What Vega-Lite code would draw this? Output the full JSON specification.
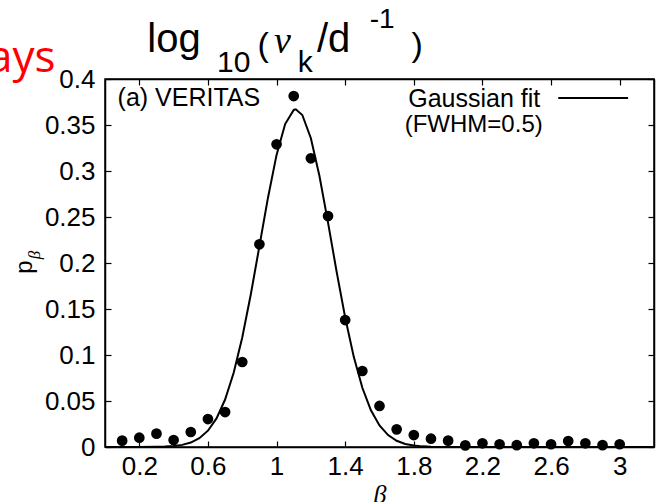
{
  "$schema": "https://vega.github.io/schema/vega-lite/v6.json",
  "width": 549,
  "height": 368,
  "autosize": {"type": "none"},
  "padding": {"left": 105, "top": 79, "right": 7, "bottom": 55},
  "background": "white",
  "config": {
    "view": {"stroke": "black", "strokeWidth": 1.5},
    "axis": {
      "grid": false,
      "domainColor": "black",
      "domainWidth": 1.5,
      "tickColor": "black",
      "tickWidth": 1.2,
      "tickSize": -6,
      "labelFont": "Liberation Sans",
      "labelFontSize": 26,
      "labelColor": "black",
      "labelOverlap": false,
      "labelFlush": false,
      "labelBound": false,
      "titleColor": "black"
    },
    "text": {"font": "Liberation Sans", "color": "black"}
  },
  "datasets": {
    "points": [
      {"beta": 0.1, "p": 0.0069}, {"beta": 0.2, "p": 0.0101}, {"beta": 0.3, "p": 0.0145},
      {"beta": 0.4, "p": 0.0076}, {"beta": 0.5, "p": 0.0163}, {"beta": 0.6, "p": 0.0304},
      {"beta": 0.7, "p": 0.038}, {"beta": 0.8, "p": 0.0924}, {"beta": 0.9, "p": 0.2203},
      {"beta": 1.0, "p": 0.329}, {"beta": 1.1, "p": 0.3815}, {"beta": 1.2, "p": 0.3138},
      {"beta": 1.3, "p": 0.251}, {"beta": 1.4, "p": 0.138}, {"beta": 1.5, "p": 0.0826},
      {"beta": 1.6, "p": 0.0446}, {"beta": 1.7, "p": 0.0192}, {"beta": 1.8, "p": 0.013},
      {"beta": 1.9, "p": 0.009}, {"beta": 2.0, "p": 0.0069}, {"beta": 2.1, "p": 0.0018},
      {"beta": 2.2, "p": 0.004}, {"beta": 2.3, "p": 0.003}, {"beta": 2.4, "p": 0.002},
      {"beta": 2.5, "p": 0.004}, {"beta": 2.6, "p": 0.003}, {"beta": 2.7, "p": 0.0065},
      {"beta": 2.8, "p": 0.004}, {"beta": 2.9, "p": 0.002}, {"beta": 3.0, "p": 0.003}
    ],
    "fit": [
      {"beta": 0.0, "p": 0.0}, {"beta": 0.2, "p": 0.00002}, {"beta": 0.3, "p": 0.00018},
      {"beta": 0.35, "p": 0.00045}, {"beta": 0.4, "p": 0.00105}, {"beta": 0.45, "p": 0.00232},
      {"beta": 0.5, "p": 0.00483}, {"beta": 0.55, "p": 0.00953}, {"beta": 0.6, "p": 0.01772},
      {"beta": 0.65, "p": 0.03111}, {"beta": 0.7, "p": 0.0516}, {"beta": 0.75, "p": 0.0807},
      {"beta": 0.8, "p": 0.1191}, {"beta": 0.85, "p": 0.166}, {"beta": 0.9, "p": 0.2183},
      {"beta": 0.95, "p": 0.271}, {"beta": 1.0, "p": 0.3175}, {"beta": 1.05, "p": 0.351},
      {"beta": 1.1, "p": 0.3664}, {"beta": 1.112, "p": 0.367}, {"beta": 1.15, "p": 0.3609},
      {"beta": 1.2, "p": 0.3356}, {"beta": 1.25, "p": 0.2945}, {"beta": 1.3, "p": 0.2439},
      {"beta": 1.35, "p": 0.1907}, {"beta": 1.4, "p": 0.1407}, {"beta": 1.45, "p": 0.098},
      {"beta": 1.5, "p": 0.0644}, {"beta": 1.55, "p": 0.0399}, {"beta": 1.6, "p": 0.02339},
      {"beta": 1.65, "p": 0.01293}, {"beta": 1.7, "p": 0.00674}, {"beta": 1.75, "p": 0.00332},
      {"beta": 1.8, "p": 0.00154}, {"beta": 1.85, "p": 0.00068}, {"beta": 1.9, "p": 0.00028},
      {"beta": 2.0, "p": 0.00004}, {"beta": 2.2, "p": 0.0}, {"beta": 3.2, "p": 0.0}
    ],
    "one": [{}]
  },
  "layer": [
    {
      "data": {"name": "fit"},
      "mark": {"type": "line", "color": "black", "strokeWidth": 2},
      "encoding": {
        "x": {"field": "beta", "type": "quantitative",
              "scale": {"domain": [0, 3.2], "nice": false, "zero": false},
              "axis": {"values": [0.2, 0.6, 1, 1.4, 1.8, 2.2, 2.6, 3], "format": "~g", "labelPadding": 12,
                       "title": "β", "titleFont": "Liberation Serif", "titleFontStyle": "italic",
                       "titleFontWeight": "normal", "titleFontSize": 26, "titlePadding": 2}},
        "y": {"field": "p", "type": "quantitative",
              "scale": {"domain": [0, 0.4], "nice": false},
              "axis": {"values": [0, 0.05, 0.1, 0.15, 0.2, 0.25, 0.3, 0.35, 0.4], "format": "~g",
                       "labelPadding": 16, "title": null}}
      }
    },
    {
      "data": {"name": "fit"},
      "mark": {"type": "line", "opacity": 0},
      "encoding": {
        "x": {"field": "beta", "type": "quantitative",
              "axis": {"orient": "top", "values": [0.2, 0.6, 1, 1.4, 1.8, 2.2, 2.6, 3], "labels": false, "title": null}},
        "y": {"field": "p", "type": "quantitative",
              "axis": {"orient": "right", "values": [0, 0.05, 0.1, 0.15, 0.2, 0.25, 0.3, 0.35, 0.4], "labels": false, "title": null}}
      }
    },
    {
      "data": {"name": "points"},
      "mark": {"type": "circle", "color": "black", "opacity": 1, "size": 115},
      "encoding": {
        "x": {"field": "beta", "type": "quantitative", "axis": null},
        "y": {"field": "p", "type": "quantitative", "axis": null}
      }
    },
    {
      "data": {"name": "one"},
      "mark": {"type": "rule", "color": "black", "strokeWidth": 2},
      "encoding": {
        "x": {"datum": 2.642, "type": "quantitative", "axis": null},
        "x2": {"datum": 3.049},
        "y": {"datum": 0.3793, "type": "quantitative", "axis": null}
      }
    },
    {
      "data": {"name": "one"},
      "mark": {"type": "text", "text": "(a) VERITAS", "fontSize": 25, "align": "left", "baseline": "alphabetic"},
      "encoding": {
        "x": {"datum": 0.0733, "type": "quantitative", "axis": null},
        "y": {"datum": 0.3707, "type": "quantitative", "axis": null}
      }
    },
    {
      "data": {"name": "one"},
      "mark": {"type": "text", "text": "Gaussian fit", "fontSize": 25, "align": "right", "baseline": "alphabetic"},
      "encoding": {
        "x": {"datum": 2.537, "type": "quantitative", "axis": null},
        "y": {"datum": 0.3701, "type": "quantitative", "axis": null}
      }
    },
    {
      "data": {"name": "one"},
      "mark": {"type": "text", "text": "(FWHM=0.5)", "fontSize": 24, "align": "left", "baseline": "alphabetic"},
      "encoding": {
        "x": {"datum": 1.747, "type": "quantitative", "axis": null},
        "y": {"datum": 0.3427, "type": "quantitative", "axis": null}
      }
    },
    {
      "data": {"name": "one"},
      "mark": {"type": "text", "text": "p", "fontSize": 24, "angle": 270, "align": "center", "baseline": "alphabetic"},
      "encoding": {
        "x": {"datum": -0.428, "type": "quantitative", "axis": null},
        "y": {"datum": 0.1957, "type": "quantitative", "axis": null}
      }
    },
    {
      "data": {"name": "one"},
      "mark": {"type": "text", "text": "β", "font": "Liberation Serif", "fontStyle": "italic", "fontSize": 17, "angle": 270, "align": "center", "baseline": "alphabetic"},
      "encoding": {
        "x": {"datum": -0.381, "type": "quantitative", "axis": null},
        "y": {"datum": 0.2087, "type": "quantitative", "axis": null}
      }
    },
    {
      "data": {"name": "one"},
      "mark": {"type": "text", "text": "ays", "font": "Open Sans", "fontSize": 44, "color": "red", "align": "right", "baseline": "alphabetic"},
      "encoding": {
        "x": {"datum": -0.2884, "type": "quantitative", "axis": null},
        "y": {"datum": 0.4076, "type": "quantitative", "axis": null}
      }
    },
    {
      "data": {"name": "one"},
      "mark": {"type": "text", "text": "log", "fontSize": 40, "align": "left", "baseline": "alphabetic"},
      "encoding": {
        "x": {"datum": 0.2465, "type": "quantitative", "axis": null},
        "y": {"datum": 0.4293, "type": "quantitative", "axis": null}
      }
    },
    {
      "data": {"name": "one"},
      "mark": {"type": "text", "text": "10", "fontSize": 30, "align": "left", "baseline": "alphabetic"},
      "encoding": {
        "x": {"datum": 0.6535, "type": "quantitative", "axis": null},
        "y": {"datum": 0.4076, "type": "quantitative", "axis": null}
      }
    },
    {
      "data": {"name": "one"},
      "mark": {"type": "text", "text": "(", "fontSize": 34, "align": "left", "baseline": "alphabetic"},
      "encoding": {
        "x": {"datum": 0.889, "type": "quantitative", "axis": null},
        "y": {"datum": 0.425, "type": "quantitative", "axis": null}
      }
    },
    {
      "data": {"name": "one"},
      "mark": {"type": "text", "text": "ν", "font": "Liberation Serif", "fontStyle": "italic", "fontSize": 38, "align": "left", "baseline": "alphabetic"},
      "encoding": {
        "x": {"datum": 0.985, "type": "quantitative", "axis": null},
        "y": {"datum": 0.428, "type": "quantitative", "axis": null}
      }
    },
    {
      "data": {"name": "one"},
      "mark": {"type": "text", "text": "k", "fontSize": 30, "align": "left", "baseline": "alphabetic"},
      "encoding": {
        "x": {"datum": 1.124, "type": "quantitative", "axis": null},
        "y": {"datum": 0.4076, "type": "quantitative", "axis": null}
      }
    },
    {
      "data": {"name": "one"},
      "mark": {"type": "text", "text": "/d", "fontSize": 40, "align": "left", "baseline": "alphabetic"},
      "encoding": {
        "x": {"datum": 1.235, "type": "quantitative", "axis": null},
        "y": {"datum": 0.4293, "type": "quantitative", "axis": null}
      }
    },
    {
      "data": {"name": "one"},
      "mark": {"type": "text", "text": "-1", "fontSize": 28, "align": "left", "baseline": "alphabetic"},
      "encoding": {
        "x": {"datum": 1.543, "type": "quantitative", "axis": null},
        "y": {"datum": 0.4554, "type": "quantitative", "axis": null}
      }
    },
    {
      "data": {"name": "one"},
      "mark": {"type": "text", "text": ")", "fontSize": 34, "align": "left", "baseline": "alphabetic"},
      "encoding": {
        "x": {"datum": 1.787, "type": "quantitative", "axis": null},
        "y": {"datum": 0.425, "type": "quantitative", "axis": null}
      }
    }
  ],
  "resolve": {"axis": {"x": "independent", "y": "independent"}}
}
